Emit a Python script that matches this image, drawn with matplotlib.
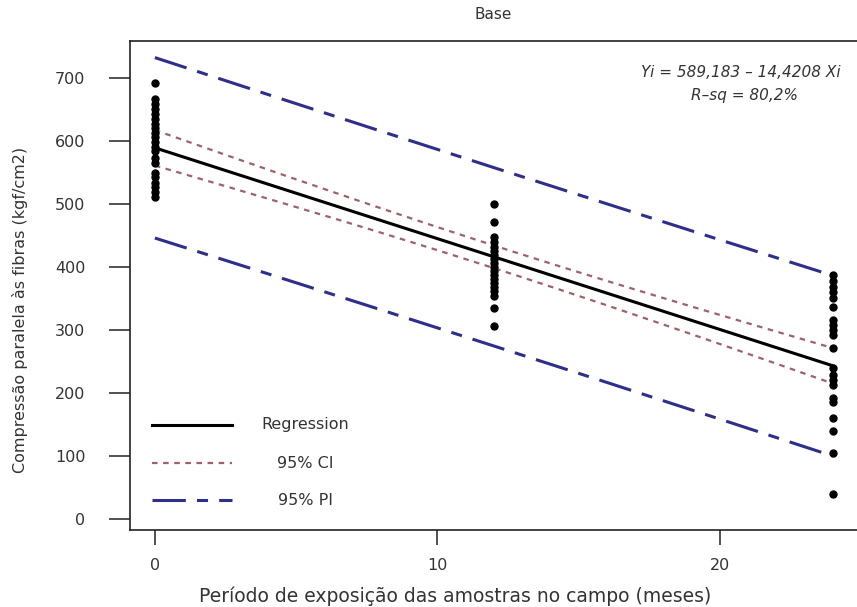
import numpy as np
import matplotlib.pyplot as plt

plt.rcParams['font.family'] = 'DejaVu Sans'
plt.rcParams['lines.scale_dashes'] = False

# compressão paralela às fibras (kgf/cm2) por período de exposição
periodos = [0, 12, 24]
comp_0m = [692, 667, 659, 651, 643, 635, 627, 621, 613, 606, 598,
           590, 584, 573, 565, 549, 543, 533, 527, 519, 511]
comp_12m = [500, 471, 448, 440, 432, 425, 419, 413, 406, 400,
            394, 388, 381, 375, 368, 362, 354, 335, 306]
comp_24m = [387, 378, 368, 360, 350, 337, 316, 308, 300, 292, 271,
            240, 229, 221, 213, 192, 185, 160, 140, 105, 40]

# equação ajustada
b0 = 589.183
b1 = -14.4208
r_sq = 80.2
t_crit = 2.001

grupos = [comp_0m, comp_12m, comp_24m]
x = np.concatenate([np.full(len(g), p, dtype=float) for p, g in zip(periodos, grupos)])
y = np.concatenate([np.array(g, dtype=float) for g in grupos])
n = len(x)

resid = y - (b0 + b1 * x)
s = np.sqrt(np.sum(resid ** 2) / (n - 2))
xbar = x.mean()
sxx = np.sum((x - xbar) ** 2)

xx = np.linspace(0, 24, 200)
fit = b0 + b1 * xx
ci = t_crit * s * np.sqrt(1 / n + (xx - xbar) ** 2 / sxx)
pi = t_crit * s * np.sqrt(1 + 1 / n + (xx - xbar) ** 2 / sxx)

txt = '#333333'
c_ci = '#a0606e'
c_pi = '#2e2e8c'
pi_dash = (24, 8, 8, 8)

fig = plt.figure(figsize=(8.57, 6.07), dpi=100)
ax = fig.add_axes([130 / 857, 77 / 607, 727 / 857, 489 / 607])

ax.plot(x, y, 'o', color='black', markersize=5, zorder=3)
ax.plot(xx, fit, color='black', lw=2.2, zorder=4)
ax.plot(xx, fit + ci, color=c_ci, lw=1.6, dashes=(4, 4))
ax.plot(xx, fit - ci, color=c_ci, lw=1.6, dashes=(4, 4))
ax.plot(xx, fit + pi, color=c_pi, lw=2.2, dashes=pi_dash)
ax.plot(xx, fit - pi, color=c_pi, lw=2.2, dashes=pi_dash)

ax.set_xlim(-0.88, 24.85)
ax.set_ylim(-17.5, 758.7)
ax.set_xticks([0, 10, 20])
ax.set_yticks(range(0, 701, 100))

for side in ['left', 'bottom', 'top']:
    ax.spines[side].set_color('#222222')
    ax.spines[side].set_linewidth(1.2)
ax.spines['right'].set_visible(False)

ax.tick_params(axis='y', length=15, width=1.1, pad=17, labelsize=11.5,
               colors='#222222', labelcolor=txt)
ax.tick_params(axis='x', length=11, width=1.1, pad=9, labelsize=11.5,
               colors='#222222', labelcolor=txt)

ax.set_title('Base', fontsize=11, color=txt, pad=16)
ax.set_xlabel('Período de exposição das amostras no campo (meses)',
              fontsize=13.5, color=txt)
ax.xaxis.set_label_coords(0.447, -0.115)
ax.set_ylabel('Compressão paralela às fibras (kgf/cm2)', fontsize=11.5, color=txt)
ax.yaxis.set_label_coords(-0.140, 0.45)

ax.text(0.978, 0.936, f'Yi = {b0:.3f} – {-b1:.4f} Xi'.replace('.', ','),
        transform=ax.transAxes, ha='right', va='center', fontsize=11,
        style='italic', color=txt)
ax.text(0.845, 0.889, f'R–sq = {r_sq:.1f}%'.replace('.', ','),
        transform=ax.transAxes, ha='center', va='center', fontsize=11,
        style='italic', color=txt)

# legenda desenhada à mão, como no Minitab
itens = [('Regression', dict(color='black', lw=2.2)),
         ('95% CI', dict(color=c_ci, lw=1.6, dashes=(4, 4))),
         ('95% PI', dict(color=c_pi, lw=2.2, dashes=pi_dash))]
for (rotulo, estilo), yy in zip(itens, [0.215, 0.137, 0.061]):
    ax.plot([0.030, 0.140], [yy, yy], transform=ax.transAxes, **estilo)
    ax.text(0.241, yy, rotulo, transform=ax.transAxes, ha='center',
            va='center', fontsize=11.5, color=txt)

fig.savefig('out.png', dpi=100)
